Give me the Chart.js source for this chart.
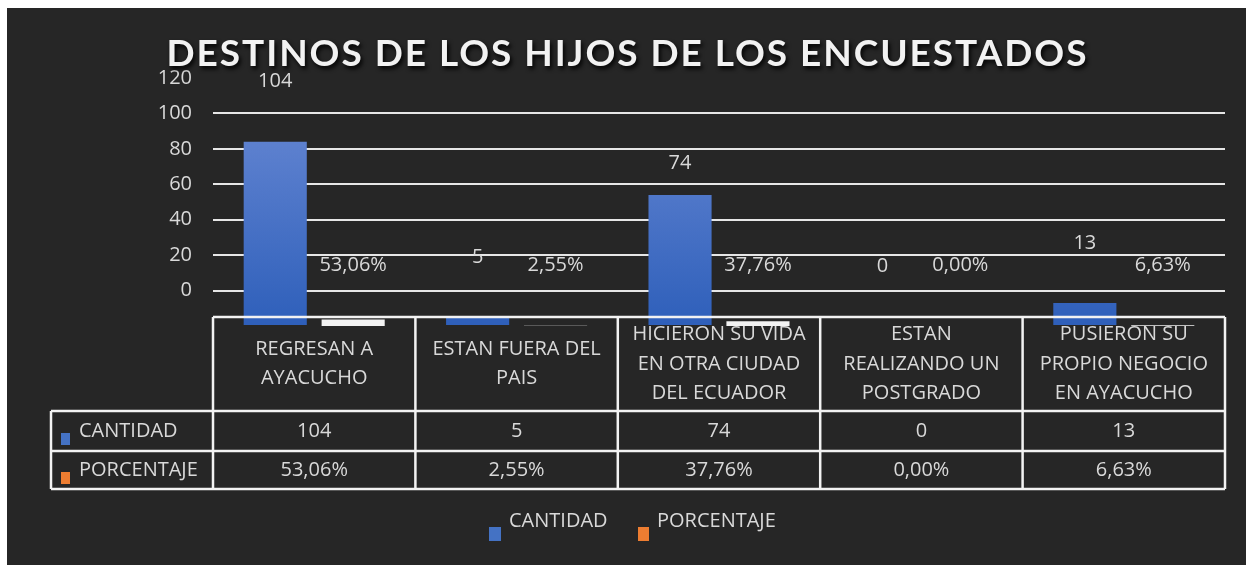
<!DOCTYPE html>
<html>
<head>
<meta charset="utf-8">
<script src="https://cdn.jsdelivr.net/npm/chart.js@4"></script>
<style>
  body { margin: 0; background: #ffffff; }
  #box { position: absolute; left: 7px; top: 8px; width: 1239px; height: 557px; background: #262626; }
</style>
</head>
<body>
<div id="box"><canvas id="chart" width="1239" height="557"></canvas></div>
<script>
// data
const categories = [
    ['REGRESAN A', 'AYACUCHO'],
    ['ESTAN FUERA DEL', 'PAIS'],
    ['HICIERON SU VIDA', 'EN OTRA CIUDAD', 'DEL ECUADOR'],
    ['ESTAN', 'REALIZANDO UN', 'POSTGRADO'],
    ['PUSIERON SU', 'PROPIO NEGOCIO', 'EN AYACUCHO']
];
const cantidad = [104, 5, 74, 0, 13];
const porcentaje = [53.06, 2.55, 37.76, 0.00, 6.63];
const seriesNames = ['CANTIDAD', 'PORCENTAJE'];
const titleText = 'DESTINOS DE LOS HIJOS DE LOS ENCUESTADOS';

const textColor = '#d9d9d9';
const blue = '#4472c4';
const orange = '#ed7d31';
const font = '"Open Sans", sans-serif';

function pct(v) {
    return v.toFixed(2).replace('.', ',') + '%';
}

// title, value labels, data table and legend
const extras = {
    id: 'extras',
    afterDatasetsDraw(chart) {
        const ctx = chart.ctx;
        const area = chart.chartArea;
        const y = chart.scales.y;
        const base = y.getPixelForValue(0);

        ctx.save();
        ctx.fillStyle = textColor;
        ctx.font = '20px ' + font;
        ctx.textAlign = 'center';
        ctx.textBaseline = 'middle';

        // value labels
        chart.getDatasetMeta(0).data.forEach((bar, i) => {
            const shift = i === 2 ? 28 : 0;
            ctx.fillText(String(cantidad[i]), bar.x, bar.y - 60 + shift);
        });
        chart.getDatasetMeta(1).data.forEach((bar, i) => {
            ctx.fillText(pct(porcentaje[i]), bar.x, base - 61);
        });

        // data table
        const top = 309, r1 = 403, r2 = 443, bottom = 481, left = 44;
        const colW = (area.right - area.left) / categories.length;
        ctx.strokeStyle = '#f2f2f2';
        ctx.lineWidth = 2.5;
        ctx.beginPath();
        ctx.moveTo(area.left, top); ctx.lineTo(area.right, top);
        ctx.moveTo(left, r1); ctx.lineTo(area.right, r1);
        ctx.moveTo(left, r2); ctx.lineTo(area.right, r2);
        ctx.moveTo(left, bottom); ctx.lineTo(area.right, bottom);
        ctx.moveTo(left, r1); ctx.lineTo(left, bottom);
        for (let i = 0; i <= categories.length; i++) {
            const cx = area.left + i * colW;
            ctx.moveTo(cx, top); ctx.lineTo(cx, bottom);
        }
        ctx.stroke();

        categories.forEach((lines, i) => {
            const cx = area.left + (i + 0.5) * colW;
            const mid = (top + r1) / 2;
            lines.forEach((line, k) => {
                ctx.fillText(line, cx, mid + (k - (lines.length - 1) / 2) * 29.5);
            });
            ctx.fillText(String(cantidad[i]), cx, (r1 + r2) / 2);
            ctx.fillText(pct(porcentaje[i]), cx, (r2 + bottom) / 2);
        });

        ctx.textAlign = 'left';
        [[blue, (r1 + r2) / 2], [orange, (r2 + bottom) / 2]].forEach(([c, cy], k) => {
            ctx.fillStyle = c;
            ctx.fillRect(54, cy + 2, 9, 12);
            ctx.fillStyle = textColor;
            ctx.fillText(seriesNames[k], 72, cy);
        });

        // legend
        const legendY = 513;
        ctx.fillStyle = blue;
        ctx.fillRect(482, legendY + 6, 12, 14);
        ctx.fillStyle = orange;
        ctx.fillRect(631, legendY + 6, 11, 14);
        ctx.fillStyle = textColor;
        ctx.fillText(seriesNames[0], 502, legendY);
        ctx.fillText(seriesNames[1], 650, legendY);

        // title
        ctx.font = 'bold 37px Lato, sans-serif';
        const w = ctx.measureText(titleText).width;
        const spacing = (920 - w) / (titleText.length - 1);
        ctx.letterSpacing = spacing + 'px';
        ctx.textAlign = 'center';
        ctx.shadowColor = 'rgba(0,0,0,0.9)';
        ctx.shadowOffsetX = 2;
        ctx.shadowOffsetY = 3;
        ctx.shadowBlur = 4;
        ctx.fillStyle = '#f2f2f2';
        ctx.fillText(titleText, chart.width / 2 + spacing / 2, 46);
        ctx.restore();
    }
};

new Chart(document.getElementById('chart'), {
    type: 'bar',
    data: {
        labels: categories,
        datasets: [
            {
                label: seriesNames[0],
                data: cantidad,
                yAxisID: 'y',
                backgroundColor: (c) => {
                    const area = c.chart.chartArea;
                    if (!area) return blue;
                    const g = c.chart.ctx.createLinearGradient(0, area.top, 0, area.bottom);
                    g.addColorStop(0, '#6d8cd6');
                    g.addColorStop(1, '#2e5fba');
                    return g;
                },
                categoryPercentage: 0.77,
                barPercentage: 0.81
            },
            {
                label: seriesNames[1],
                data: porcentaje,
                yAxisID: 'y2',
                backgroundColor: '#f2f2f2',
                categoryPercentage: 0.77,
                barPercentage: 0.81
            }
        ]
    },
    options: {
        responsive: false,
        animation: false,
        layout: { padding: { top: 70, right: 21, bottom: 239, left: 0 } },
        scales: {
            x: { display: false },
            y: {
                min: 0,
                max: 140,
                ticks: {
                    stepSize: 20,
                    color: textColor,
                    font: { family: font, size: 20 },
                    padding: 21,
                    callback: (v) => v === 0 ? '' : v - 20
                },
                grid: {
                    color: (c) => (c.tick.value === 0 || c.tick.value === 140) ? 'rgba(0,0,0,0)' : '#e6e6e6',
                    lineWidth: 2,
                    drawTicks: false
                },
                border: { display: false },
                afterFit: (s) => { s.width = 206; }
            },
            y2: { display: false, min: 0, max: 2000 }
        },
        plugins: {
            legend: { display: false },
            tooltip: { enabled: false }
        }
    },
    plugins: [extras]
});
</script>
</body>
</html>
